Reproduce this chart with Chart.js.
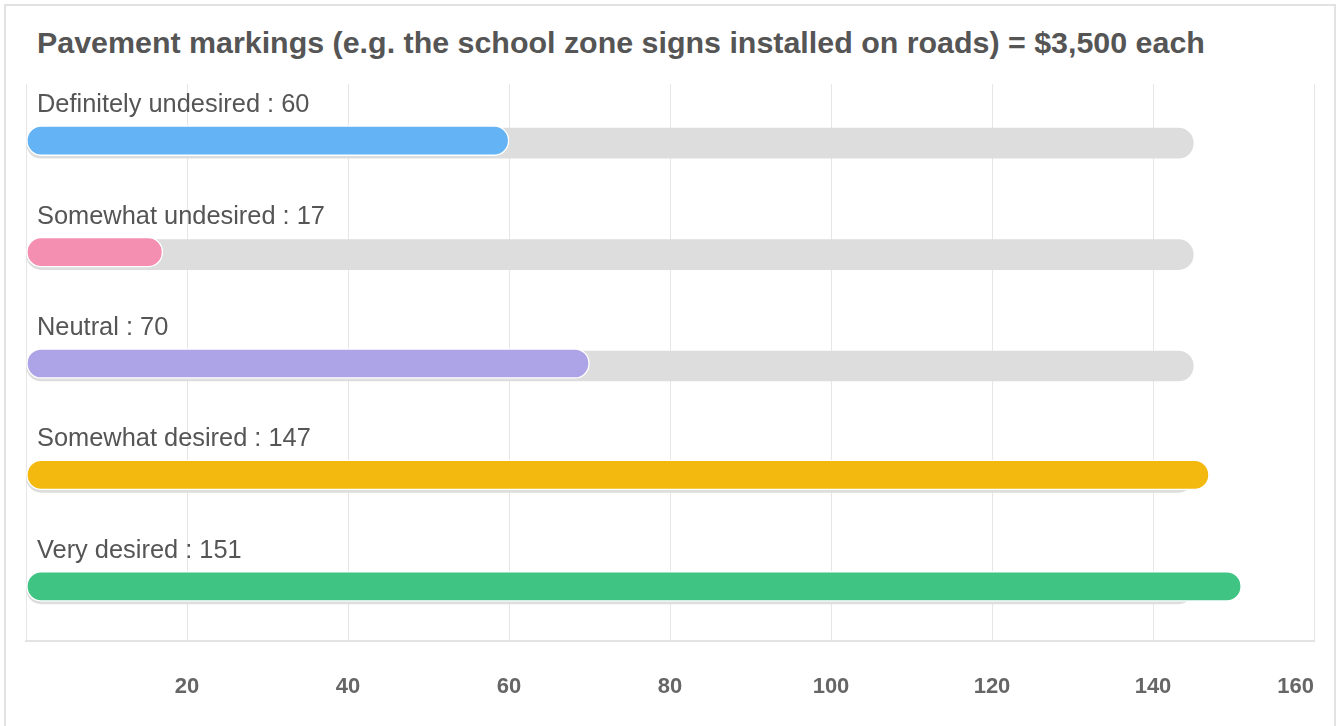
<!DOCTYPE html>
<html>
<head>
<meta charset="utf-8">
<script src="https://cdn.jsdelivr.net/npm/chart.js@4"></script>
<style>
  html, body { margin: 0; background: #fff; overflow: hidden; width: 1338px; height: 726px; }
  #card {
    position: absolute; left: 4px; top: 4px; width: 1332px; height: 730px;
    box-sizing: border-box; border: 2px solid #e2e2e2;
  }
  #title {
    position: absolute; left: 37px; top: 27px; margin: 0;
    font: bold 30.4px "Liberation Sans", Arial, sans-serif; line-height: 30px;
    color: #555; white-space: nowrap;
  }
  #chart { position: absolute; left: 0; top: 0; }
</style>
</head>
<body>
<div id="card"></div>
<h1 id="title">Pavement markings (e.g. the school zone signs installed on roads) = $3,500 each</h1>
<canvas id="chart" width="1338" height="726"></canvas>
<script>
const categories = ["Definitely undesired", "Somewhat undesired", "Neutral", "Somewhat desired", "Very desired"];
const counts = [60, 17, 70, 147, 151];
// grey track behind every bar
const trackValues = [145, 145, 145, 145, 145];
const barColors = ["#63b3f5", "#f48fb1", "#aca4e6", "#f3b90f", "#3fc483"];
const axisMin = 0;
const axisMax = 160;
const axisStep = 20;

// small vertical nudges: the grey track peeks out under the coloured bar
const shifts = [1, 3.5];
const barShift = {
  id: "barShift",
  beforeDatasetDraw(chart, args) {
    chart.ctx.save();
    chart.ctx.translate(0, shifts[args.index]);
  },
  afterDatasetDraw(chart) {
    chart.ctx.restore();
  },
};

// "Label : value" written above each bar
const barLabels = {
  id: "barLabels",
  afterDatasetsDraw(chart) {
    let ctx = chart.ctx;
    let y = chart.scales.y;
    ctx.save();
    ctx.font = '25.4px "Liberation Sans", Arial, sans-serif';
    ctx.fillStyle = "#555";
    ctx.textBaseline = "middle";
    categories.forEach((c, i) => {
      ctx.fillText(c + " : " + counts[i], chart.chartArea.left + 11, y.getPixelForValue(i) - 34.5);
    });
    ctx.restore();
  },
};

const chart = new Chart(document.getElementById("chart"), {
  type: "bar",
  data: {
    labels: categories,
    datasets: [
      {
        data: counts,
        backgroundColor: barColors,
        borderColor: "#fff",
        borderWidth: 1.5,
        borderSkipped: false,
        borderRadius: 20,
        barThickness: 30,
        grouped: false,
        order: 1,
      },
      {
        data: trackValues,
        backgroundColor: "#dddddd",
        borderWidth: 0,
        borderSkipped: false,
        borderRadius: 20,
        barThickness: 30,
        grouped: false,
        order: 2,
      },
    ],
  },
  options: {
    indexAxis: "y",
    responsive: false,
    animation: false,
    layout: { padding: { left: 26, right: 24, top: 84, bottom: 0 } },
    plugins: {
      legend: { display: false },
      tooltip: { enabled: false },
    },
    scales: {
      x: {
        min: axisMin,
        max: axisMax,
        afterFit: (scale) => {
          scale.height = 85;
          scale.paddingLeft = 0;
          scale.paddingRight = 0;
        },
        grid: { color: "#e6e6e6", drawTicks: false },
        border: { color: "#e3e3e3", width: 2 },
        ticks: {
          stepSize: axisStep,
          align: "inner",
          padding: 33,
          color: "#666",
          font: { family: '"Liberation Sans", Arial, sans-serif', size: 22, weight: "bold" },
          callback: (v) => (v === 0 ? "" : v),
        },
      },
      y: { display: false },
    },
  },
  plugins: [barShift, barLabels],
});
</script>
</body>
</html>
